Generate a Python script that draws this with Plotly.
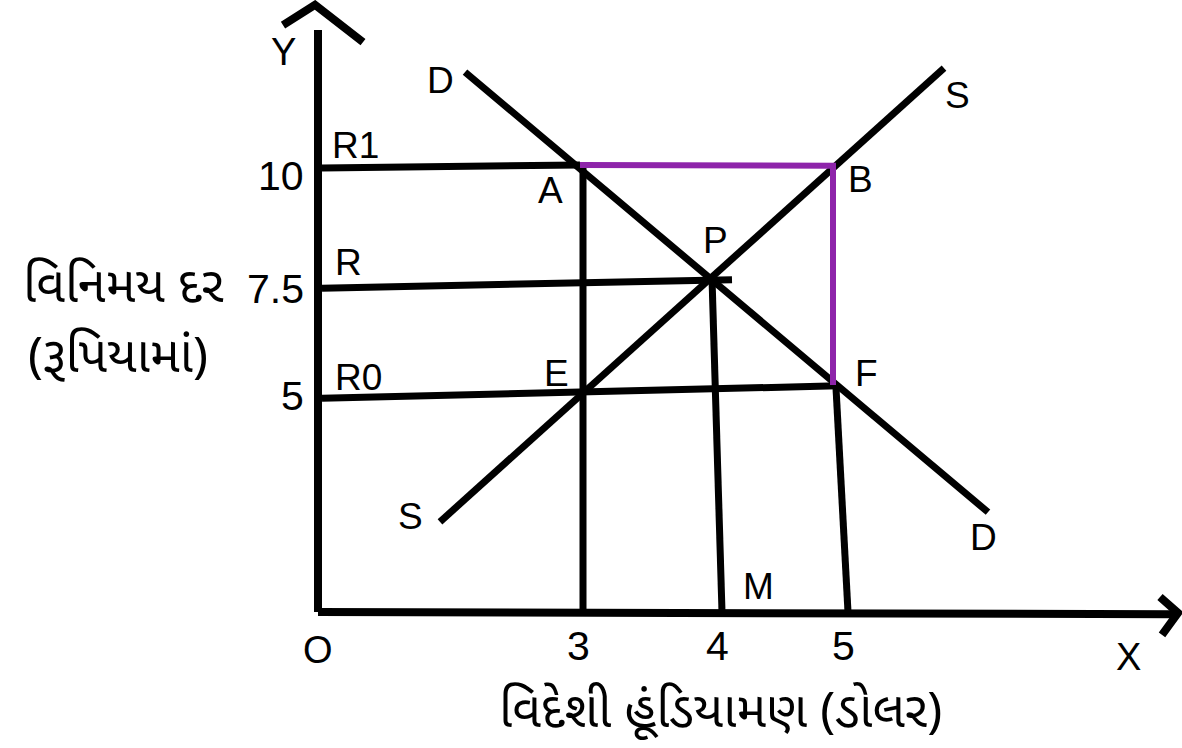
import plotly.graph_objects as go

# ---- data (drawn units: x = 1 unit per 100 px from origin, y = rupees) ----
rate_vals = [10, 7.5, 5]
rate_labels = ["10", "7.5", "5"]
rate_names = ["R1", "R", "R0"]

qty_pos = [2.65, 4.04, 5.30]
qty_labels = ["3", "4", "5"]

demand_x = [1.47, 6.70]
demand_y = [12.27, 2.27]
supply_x = [1.22, 6.26]
supply_y = [2.05, 12.36]

# guide lines (hand drawn, slightly slanted)
r1_x = [0.04, 2.62]
r1_y = [10.09, 10.16]
r_x = [0.04, 4.14]
r_y = [7.36, 7.55]
r0_x = [0.04, 5.20]
r0_y = [4.86, 5.14]
v3_x = [2.65, 2.65]
v3_y = [10.16, 0.0]
v4_x = [3.94, 4.04]
v4_y = [7.59, 0.0]
v5_x = [5.18, 5.30]
v5_y = [5.09, 0.0]

# deficit (purple) A -> B -> F
gap_x = [2.62, 5.13, 5.15, 5.15]
gap_y = [10.16, 10.14, 10.14, 5.16]

# axes
yaxis_x = [0.0, 0.0]
yaxis_y = [13.23, 0.0]
xaxis_x = [0.0, 8.55]
xaxis_y = [0.0, -0.05]
ycaret_x = [-0.35, -0.03, 0.45]
ycaret_y = [13.34, 13.80, 12.95]
xcaret_x = [8.42, 8.60, 8.44]
xcaret_y = [0.34, -0.02, -0.52]

# point labels
pt_names = ["A", "B", "P", "E", "F", "M"]
pt_x = [2.32, 5.42, 3.97, 2.38, 5.48, 4.40]
pt_y = [9.59, 9.82, 8.45, 5.41, 5.43, 0.57]
name_x = [0.37, 0.30, 0.40]
name_y = [10.61, 7.95, 5.32]

curve_lbl = ["D", "S", "S", "D"]
curve_lbl_x = [1.22, 6.39, 0.92, 6.65]
curve_lbl_y = [12.09, 11.75, 2.18, 1.70]

y_title_1 = "વિનિમય દર"
y_title_2 = "(રૂપિયામાં)"
x_title = "વિદેશી હૂંડિયામણ (ડોલર)"

BLACK = "#000000"
PURPLE = "#8E24AA"
LAT = "Liberation Sans, Arial, sans-serif"
GUJ = "Noto Sans Gujarati, Lohit Gujarati, Noto Sans, sans-serif"

fig = go.Figure()


def seg(xs, ys, color=BLACK, w=7):
    fig.add_trace(go.Scatter(x=xs, y=ys, mode="lines",
                             line=dict(color=color, width=w),
                             hoverinfo="skip", showlegend=False))


for xs, ys in [(r1_x, r1_y), (r_x, r_y), (r0_x, r0_y),
               (v3_x, v3_y), (v4_x, v4_y), (v5_x, v5_y)]:
    seg(xs, ys)
seg(demand_x, demand_y)
seg(supply_x, supply_y)
seg(gap_x, gap_y, PURPLE, 6)
seg(yaxis_x, yaxis_y, w=8)
seg(xaxis_x, xaxis_y, w=8)
seg(ycaret_x, ycaret_y, w=8)
seg(xcaret_x, xcaret_y, w=8)

ann = []


def label(x, y, t, size=37, fam=LAT, xa="center"):
    ann.append(dict(x=x, y=y, text=t, showarrow=False, xanchor=xa,
                    yanchor="middle", font=dict(size=size, family=fam, color=BLACK)))


for n, x, y in zip(pt_names, pt_x, pt_y):
    label(x, y, n)
for n, x, y in zip(rate_names, name_x, name_y):
    label(x, y, n)
for n, x, y in zip(curve_lbl, curve_lbl_x, curve_lbl_y):
    label(x, y, n)
for t, v in zip(rate_labels, rate_vals):
    label(-0.12, v - 0.1 if v != 7.5 else v - 0.16, t, size=41, xa="right")
for t, x in zip(qty_labels, qty_pos):
    label(x - 0.05, -0.77, t, size=41)
label(0.0, -0.87, "O", size=38)
label(8.10, -1.02, "X", size=38)
label(-0.35, 12.73, "Y", size=38)
label(-0.92, 7.32, y_title_1, size=50, fam=GUJ, xa="right")
label(-2.0, 5.75, y_title_2, size=50, fam=GUJ)
label(4.02, -2.33, x_title, size=50, fam=GUJ)

fig.update_layout(
    width=1182, height=748,
    margin=dict(l=0, r=0, t=0, b=0),
    paper_bgcolor="white", plot_bgcolor="white",
    showlegend=False,
    xaxis=dict(range=[-3.18, 8.64], visible=False, fixedrange=True),
    yaxis=dict(range=[-3.0909, 13.909], visible=False, fixedrange=True),
    annotations=ann,
)

fig.write_html("out.html", config={"displayModeBar": False},
               post_script="document.body.style.margin='0';")
